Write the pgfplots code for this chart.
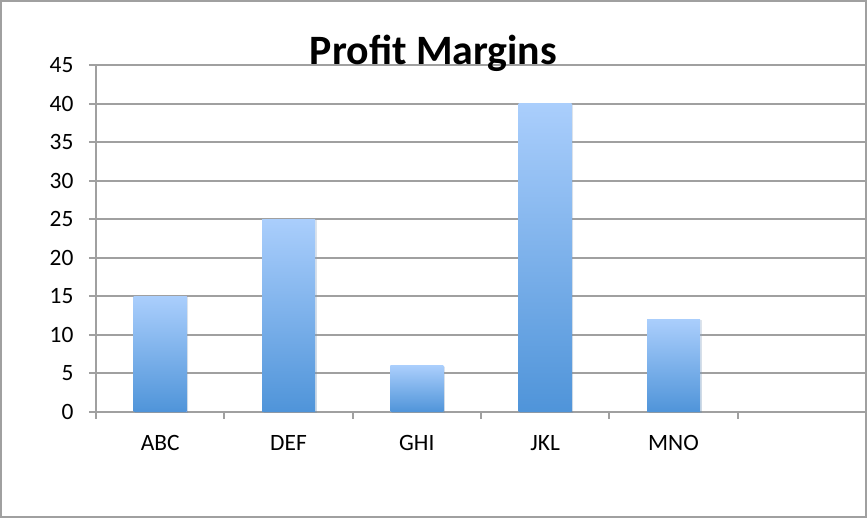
\documentclass[border=0pt]{standalone}
\usepackage{fontspec}
\setmainfont{Carlito}
\usepackage{pgfplots}
\pgfplotsset{compat=1.18}
\usetikzlibrary{shadows}
\definecolor{gridgray}{HTML}{A0A0A0}
\definecolor{bartop}{HTML}{AACEFC}
\definecolor{barbot}{HTML}{4F94D9}
\begin{document}
\begin{tikzpicture}[x=1bp,y=1bp]
\useasboundingbox (0,0) rectangle (867,518);
\draw[gridgray, line width=2bp] (1,1) rectangle (866,517);
\begin{axis}[
  at={(96bp,106bp)}, anchor=south west,
  scale only axis, width=770bp, height=347bp,
  xmin=-0.5, xmax=5.5, ymin=0, ymax=45,
  ytick={0,5,...,45},
  xtick={0,...,4}, xticklabels={ABC,DEF,GHI,JKL,MNO},
  minor xtick={-0.5,0.5,...,5.5},
  axis x line*=bottom, axis y line*=left,
  axis line style={-, draw=gridgray, line width=2bp},
  ymajorgrids, grid style={draw=gridgray, line width=2bp},
  tick align=outside,
  major tick length=7bp, minor tick length=7bp,
  tick style={draw=gridgray, line width=2bp},
  major x tick style={draw=none},
  /pgf/number format/assume math mode=true,
  yticklabel style={font=\fontsize{23.5}{26}\selectfont, xshift=-12bp},
  xticklabel style={font=\fontsize{23.5}{26}\selectfont, yshift=-13bp},
  ybar, bar width=53bp, bar shift=0pt,
  every axis plot/.append style={draw=none, top color=bartop, bottom color=barbot,
    drop shadow={opacity=0.18, shadow xshift=1.5bp, shadow yshift=-1bp}},
  clip=false,
]
\addplot coordinates {(0,15)};
\addplot coordinates {(1,25)};
\addplot coordinates {(2,6)};
\addplot coordinates {(3,40)};
\addplot coordinates {(4,12)};
\end{axis}
\node[font=\fontsize{42}{46}\selectfont\bfseries, anchor=base] at (433.5,453) {Profit Margins};
\end{tikzpicture}
\end{document}
